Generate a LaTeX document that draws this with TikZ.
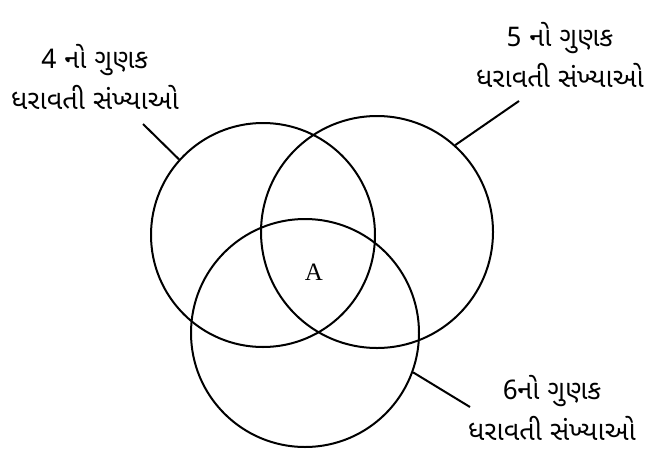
\documentclass[tikz,border=0pt]{standalone}
\usepackage{fontspec}
\newfontfamily\guj[Script=Gujarati]{Noto Sans Gujarati UI}
\newfontfamily\serifA{Liberation Serif}
\begin{document}
\begin{tikzpicture}[x=1pt,y=-1pt,
  setc/.style={draw, circle, line width=2pt, inner sep=0pt},
  lbl/.style={font=\guj\fontsize{27}{41}\selectfont, align=center, inner sep=0pt},
  lead/.style={line width=2pt}]
\useasboundingbox (0,0) rectangle (666,450);
\node[setc, minimum size=224pt] (L) at (263,235) {};
\node[setc, minimum size=232pt] (R) at (377,232) {};
\node[setc, minimum size=228pt] (B) at (305,333) {};
\node[font=\serifA\fontsize{25}{28}\selectfont, inner sep=0pt] (A) at (314,272) {A};
\node[lbl] (tl) at (95,77) {4 નો ગુણક\\ધરાવતી સંખ્યાઓ};
\node[lbl] (tr) at (560,55) {5 નો ગુણક\\ધરાવતી સંખ્યાઓ};
\node[lbl] (tb) at (552,408) {6નો ગુણક\\ધરાવતી સંખ્યાઓ};
\coordinate (cl) at (143,124);
\coordinate (cr) at (519,101);
\coordinate (cb) at (470,407);
\draw[lead] (L.138) -- (cl);
\draw[lead] (R.48) -- (cr);
\draw[lead] (B.-20) -- (cb);
\end{tikzpicture}
\end{document}
